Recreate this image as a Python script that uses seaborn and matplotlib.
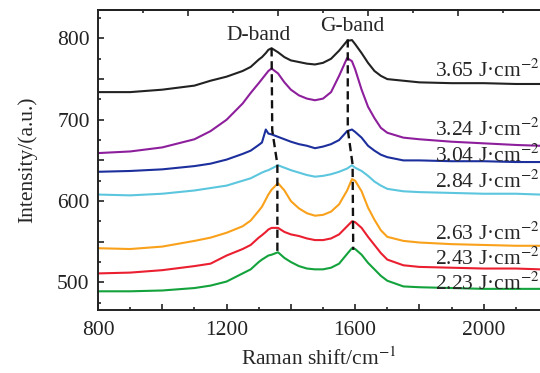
import matplotlib

matplotlib.use("Agg")
import matplotlib.pyplot as plt  # noqa: E402
import pandas as pd
import seaborn as sns
from matplotlib.ticker import FixedLocator, FuncFormatter, MultipleLocator

shift = [800, 900, 1000, 1100, 1150, 1200, 1250, 1275, 1300, 1310, 1322, 1330,
         1340, 1360, 1380, 1400, 1425, 1450, 1475, 1500, 1525, 1550, 1575, 1590,
         1600, 1620, 1640, 1660, 1680, 1700, 1750, 1800, 1900, 2000, 2100, 2175]

fluence_labels = ["3.65", "3.24", "3.04", "2.84", "2.63", "2.43", "2.23"]

i_365 = [734, 734, 737, 742, 748, 753, 760, 765, 774, 777, 782, 786,
         788, 783, 777, 773, 771, 769, 768, 770, 775, 785, 797, 798,
         793, 782, 770, 760, 754, 750, 748, 746, 745, 745, 744, 744]
i_324 = [659, 661, 666, 676, 686, 700, 720, 733, 745, 750, 756, 760,
         763, 757, 746, 737, 730, 726, 724, 726, 734, 754, 776, 772,
         762, 737, 716, 702, 690, 684, 678, 676, 673, 671, 669, 668]
i_304 = [636, 637, 639, 643, 646, 651, 658, 662, 669, 672, 688, 683,
         682, 679, 676, 673, 670, 668, 665, 667, 670, 675, 686, 688,
         685, 678, 668, 662, 657, 654, 650, 650, 649, 649, 648, 648]
i_284 = [608, 607, 609, 613, 616, 619, 625, 628, 633, 635, 637, 638,
         640, 644, 641, 638, 635, 632, 630, 631, 633, 636, 640, 644,
         641, 637, 631, 624, 619, 615, 612, 611, 610, 609, 609, 608]
i_263 = [542, 541, 544, 551, 555, 561, 569, 576, 588, 593, 602, 608,
         614, 622, 613, 600, 591, 585, 582, 583, 587, 596, 613, 627,
         625, 612, 592, 577, 564, 556, 551, 549, 547, 546, 545, 545]
i_243 = [511, 512, 515, 520, 523, 533, 541, 546, 555, 558, 562, 565,
         567, 567, 562, 559, 557, 554, 552, 552, 554, 559, 569, 575,
         574, 567, 556, 546, 536, 528, 521, 519, 518, 517, 517, 516]
i_223 = [489, 489, 490, 493, 496, 501, 511, 516, 525, 528, 531, 533,
         534, 537, 530, 525, 520, 517, 516, 516, 518, 523, 535, 542,
         541, 534, 524, 516, 508, 502, 495, 494, 493, 492, 492, 492]

# peak positions joined by the dashed guide lines
d_peak_x = [1340, 1342, 1358, 1358]
d_peak_y = [788, 687, 645, 534]
g_peak_x = [1577, 1577, 1592, 1594]
g_peak_y = [799, 688, 645, 540]

colors = ["#222222", "#8e1f9c", "#1c2f9c", "#5cc6de", "#f9a11b", "#ea1f30", "#13a23c"]
label_y = [753, 680, 648.5, 616, 552.5, 522, 491]
label_x = [1847, 1847, 1847, 1847, 1847, 1847, 1849]

FS = 15.5

series = [i_365, i_324, i_304, i_284, i_263, i_243, i_223]
df = pd.concat(
    [pd.DataFrame({"shift": shift, "intensity": s, "fluence": f})
     for s, f in zip(series, fluence_labels)],
    ignore_index=True,
)

sns.set_theme(style="ticks")
plt.rcParams["font.family"] = ["Liberation Serif", "DejaVu Serif"]
plt.rcParams["mathtext.fontset"] = "stix"
plt.rcParams["font.size"] = FS

fig = plt.figure(figsize=(5.4, 3.73), dpi=100)
ax = fig.add_axes([98 / 540, 63 / 373, 442 / 540, 300 / 373])

sns.lineplot(
    data=df, x="shift", y="intensity", hue="fluence",
    hue_order=fluence_labels, palette=colors, estimator=None,
    linewidth=1.5, legend=False, ax=ax,
)

ax.plot(d_peak_x, d_peak_y, color="#111111", lw=1.7, ls=(0, (3.5, 2)))
ax.plot(g_peak_x, g_peak_y, color="#111111", lw=1.7, ls=(0, (3.5, 2)))

ax.text(1298, 798, "D-band", ha="center", va="baseline", fontsize=FS)
ax.text(1591, 809, "G-band", ha="center", va="baseline", fontsize=FS)
for lab, lx, ly in zip(fluence_labels, label_x, label_y):
    ax.text(lx, ly, lab + " J\u00b7cm$^{-2}$", ha="left", va="baseline",
            fontsize=FS, clip_on=False)

ax.set_xlim(800, 2175)
ax.set_ylim(466, 835)

ax.xaxis.set_major_locator(MultipleLocator(200))
ax.xaxis.set_minor_locator(MultipleLocator(100))
ax.xaxis.set_major_formatter(FuncFormatter(lambda v, p: f"{v:.0f}" if v % 400 == 0 else ""))
ax.yaxis.set_major_locator(MultipleLocator(50))
ax.yaxis.set_minor_locator(MultipleLocator(25))
ax.yaxis.set_major_formatter(FuncFormatter(lambda v, p: f"{v:.0f}" if v % 100 == 0 else ""))
ax.tick_params(which="both", direction="in", width=1.2, colors="#222222", labelsize=FS)
ax.tick_params(which="major", length=4.5)
ax.tick_params(which="minor", length=2.5)
ax.tick_params(axis="x", which="major", pad=8)
ax.tick_params(axis="y", which="major", pad=6)

top = ax.secondary_xaxis("top")
top.xaxis.set_major_locator(FixedLocator([1080, 1360, 1640, 1920]))
top.xaxis.set_minor_locator(FixedLocator([940, 1220, 1500, 1780, 2060]))
top.tick_params(which="both", direction="in", width=1.2, labeltop=False)
top.tick_params(which="major", length=4.5)
top.tick_params(which="minor", length=2.5)
top.spines["top"].set_linewidth(1.4)

for side in ["left", "bottom", "top"]:
    ax.spines[side].set_linewidth(1.4)
    ax.spines[side].set_color("#222222")
ax.spines["right"].set_visible(False)

ax.set_xlabel("Raman shift/cm$^{-1}$", fontsize=FS, labelpad=5)
ax.set_ylabel("Intensity/(a.u.)", fontsize=FS, labelpad=14)

fig.savefig("out.png", dpi=100)
plt.close(fig)
